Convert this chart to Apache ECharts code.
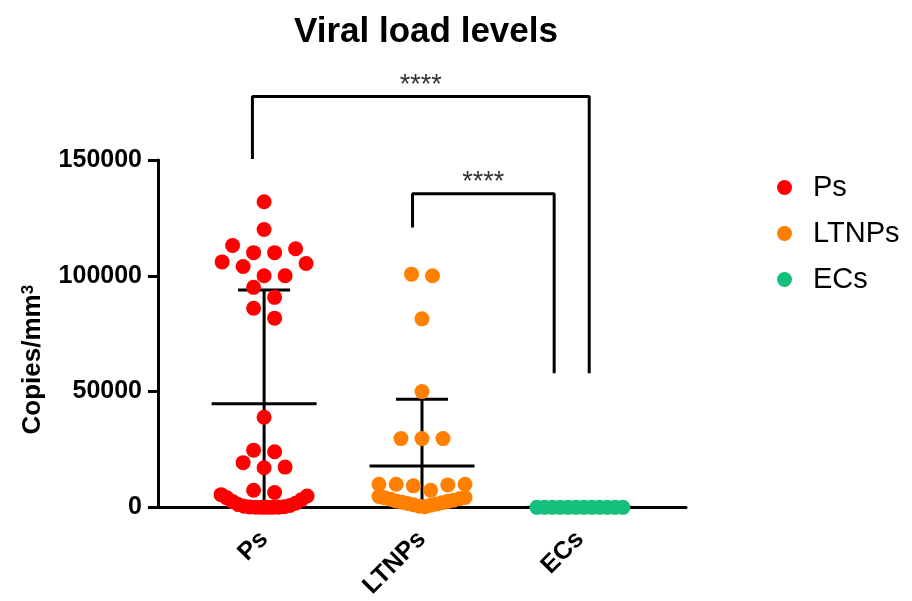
<!DOCTYPE html>
<html><head><meta charset="utf-8">
<script src="https://cdn.jsdelivr.net/npm/echarts@6/dist/echarts.min.js"></script>
<style>html,body{margin:0;padding:0;background:#fff}#c{width:912px;height:601px}</style>
</head><body><div id="c"></div>
<script>
// ---------- data ----------
const chartTitle = 'Viral load levels';
const categories = ['Ps', 'LTNPs', 'ECs'];
const yTicks = [0, 50000, 100000, 150000];
const psValues = [132000, 120000, 113100, 111700, 110000, 110000, 106000, 105300, 104000, 100000, 100000,
  95000, 90700, 86000, 81700, 38900, 24700, 24000, 19300, 17400, 17100, 7400, 6400,
  5500, 4900, 4100, 3300, 2500, 1800, 1200, 800, 500, 300, 150, 100, 50, 0, 0, 0];
const ltnpValues = [100700, 100000, 81400, 50000, 29700, 29700, 29700, 10000, 10000, 10000, 9700, 9300, 7400,
  4700, 4300, 4100, 3700, 3500, 3100, 2800, 2600, 2200, 2000, 1700, 1400, 1100, 900, 500, 300];
const ecValues = [0, 0, 0, 0, 0, 0, 0, 0, 0, 0, 0, 0];
const groupValues = [psValues, ltnpValues, ecValues];
const significance = [
  { from: 'Ps', to: 'ECs', label: '****' },
  { from: 'LTNPs', to: 'ECs', label: '****' }
];

// ---------- style / layout ----------
const colors = ['#ff0000', '#ff8000', '#14bf7d'];
const FONT = 'Liberation Sans, Arial, Helvetica, sans-serif';
const X_MIN = 0.328, X_MAX = 3.672;
const DOT = 15;                 // dot diameter px
const DOT_STEP = 0.133;         // max horizontal step between dots (x units)
const ROW_SPAN = 0.545;         // max width of a row of dots (x units)
const ROW_BAND = 6000;          // values closer than this share a row
const MEAN_HALF = 52.5, CAP_HALF = 26; // px
// bracket geometry (annotation layout)
const bracketLayout = [
  { top: 177400, leftEnd: 150400, rightEnd: 57900, dl: -0.074, dr: 0.059 },
  { top: 135400, leftEnd: 120900, rightEnd: 57900, dl: -0.060, dr: -0.163 }
];

// ---------- helpers ----------
function swarm(values, gx) {
  const sorted = values.slice().sort((a, b) => a - b);
  const rows = [];
  let cur = null;
  sorted.forEach(v => {
    if (!cur || v - cur.start > ROW_BAND) { cur = { start: v, items: [] }; rows.push(cur); }
    cur.items.push(v);
  });
  const pts = [];
  rows.forEach(r => {
    const n = r.items.length;
    const step = n > 1 ? Math.min(DOT_STEP, ROW_SPAN / (n - 1)) : 0;
    r.items.forEach((v, i) => {
      let k;
      if (n % 2 === 1) k = i === 0 ? 0 : (i % 2 === 1 ? (i + 1) / 2 : -i / 2);
      else k = i % 2 === 0 ? (i / 2 + 0.5) : -((i - 1) / 2 + 0.5);
      pts.push([gx + k * step, v]);
    });
  });
  return pts;
}
function stats(vals) {
  const n = vals.length;
  const mean = vals.reduce((a, b) => a + b, 0) / n;
  const sd = Math.sqrt(vals.reduce((a, b) => a + (b - mean) * (b - mean), 0) / (n - 1));
  return { mean, sd };
}

const scatterSeries = categories.map((name, i) => ({
  name, type: 'scatter', data: swarm(groupValues[i], i + 1),
  symbol: 'circle', symbolSize: DOT, clip: false, z: 4,
  itemStyle: { color: colors[i], opacity: 1 },
  emphasis: { disabled: true }
}));

const errData = groupValues.map((v, i) => { const s = stats(v); return [i + 1, s.mean, s.sd]; });
const errSeries = {
  type: 'custom', name: 'meanSD', z: 3, clip: false, silent: true,
  encode: { x: 0, y: 1 },
  data: errData,
  renderItem: (params, api) => {
    const x = api.value(0), m = api.value(1), sd = api.value(2);
    const c = api.coord([x, m]);
    const t = api.coord([x, m + sd]);
    const lowV = Math.max(m - sd, 0);
    const l = api.coord([x, lowV]);
    const style = { stroke: '#000', lineWidth: 3, fill: null };
    const ch = [
      { type: 'line', shape: { x1: c[0] - MEAN_HALF, y1: c[1], x2: c[0] + MEAN_HALF, y2: c[1] }, style },
      { type: 'line', shape: { x1: t[0], y1: t[1], x2: l[0], y2: l[1] }, style },
      { type: 'line', shape: { x1: t[0] - CAP_HALF, y1: t[1], x2: t[0] + CAP_HALF, y2: t[1] }, style }
    ];
    if (m - sd >= 0 && sd > 0) ch.push({ type: 'line', shape: { x1: l[0] - CAP_HALF, y1: l[1], x2: l[0] + CAP_HALF, y2: l[1] }, style });
    return { type: 'group', children: ch };
  }
};

const bracketSeries = [];
significance.forEach((s, i) => {
  const b = bracketLayout[i];
  const xa = categories.indexOf(s.from) + 1 + b.dl;
  const xb = categories.indexOf(s.to) + 1 + b.dr;
  bracketSeries.push({
    type: 'line', name: 'bracket' + i, clip: false, silent: true, z: 3, symbol: 'none',
    lineStyle: { color: '#000', width: 3 },
    data: [[xa, b.leftEnd], [xa, b.top], [xb, b.top], [xb, b.rightEnd]]
  });
  bracketSeries.push({
    type: 'scatter', name: 'star' + i, clip: false, silent: true, symbolSize: 0,
    data: [[(xa + xb) / 2, b.top]],
    label: { show: true, position: 'top', distance: -2, formatter: s.label, fontSize: 27, color: '#000', fontFamily: FONT }
  });
});

const chart = echarts.init(document.getElementById('c'), null, { renderer: 'canvas' });
chart.setOption({
  animation: false,
  backgroundColor: '#fff',
  textStyle: { fontFamily: FONT },
  title: {
    text: chartTitle, left: 421, top: 10, textAlign: 'center',
    textStyle: { fontSize: 35, fontWeight: 'bold', color: '#000', fontFamily: FONT }
  },
  legend: {
    data: categories, orient: 'vertical', left: 772, top: 168,
    icon: 'circle', itemWidth: 15, itemHeight: 15, itemGap: 17,
    textStyle: { fontSize: 29, color: '#000', fontFamily: FONT, padding: [0, 0, 0, 16] },
    selectedMode: false
  },
  grid: { left: 158, right: 226, top: 160, bottom: 91, containLabel: false },
  xAxis: {
    type: 'value', min: X_MIN, max: X_MAX,
    axisLine: { show: true, onZero: false, lineStyle: { color: '#000', width: 3 } },
    splitLine: { show: false },
    axisTick: { show: true, customValues: [1, 2, 3], length: 4, lineStyle: { color: '#000', width: 2 } },
    axisLabel: {
      customValues: [1, 2, 3], formatter: v => categories[Math.round(v) - 1] || '',
      rotate: 45, margin: 28, fontSize: 25, fontWeight: 'bold', color: '#000', fontFamily: FONT
    }
  },
  yAxis: {
    type: 'value', min: yTicks[0], max: yTicks[yTicks.length - 1], interval: yTicks[1] - yTicks[0],
    axisLine: { show: true, onZero: false, lineStyle: { color: '#000', width: 3 } },
    axisTick: { show: true, length: 10, lineStyle: { color: '#000', width: 3 } },
    splitLine: { show: false },
    axisLabel: { fontSize: 25, fontWeight: 'bold', color: '#000', margin: 16, fontFamily: FONT, formatter: v => String(v) },
    name: 'Copies/mm{sup|3}', nameLocation: 'middle', nameGap: 112,
    nameTextStyle: {
      fontSize: 26, fontWeight: 'bold', color: '#000', fontFamily: FONT, padding: [0, 52, 0, 0],
      rich: { sup: { fontSize: 17, fontWeight: 'bold', color: '#000', verticalAlign: 'top', fontFamily: FONT } }
    }
  },
  series: [errSeries, ...bracketSeries, ...scatterSeries]
});
</script></body></html>
